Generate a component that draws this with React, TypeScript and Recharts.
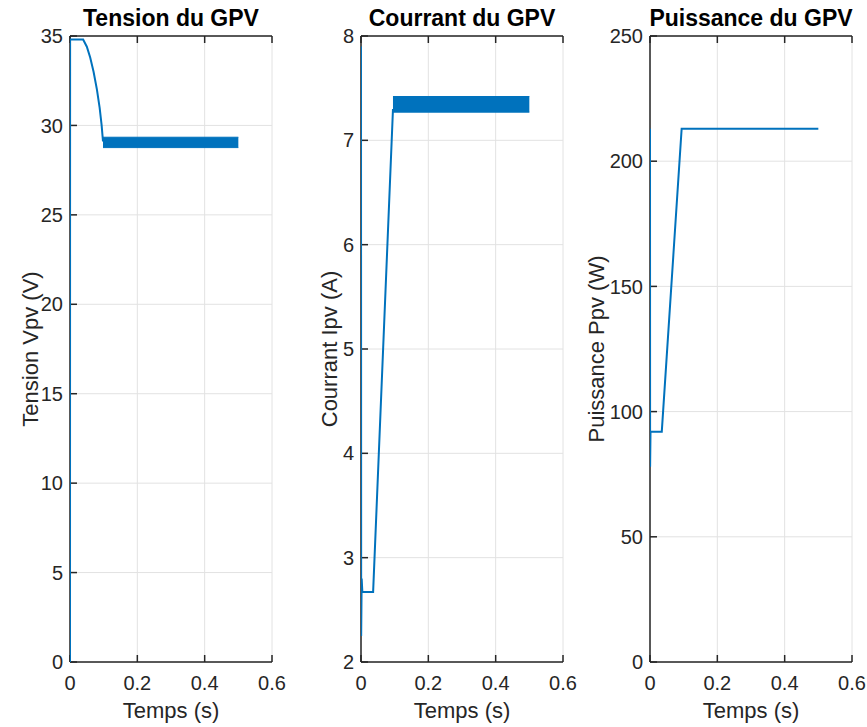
import React from 'react';
import {
  Area,
  CartesianGrid,
  ComposedChart,
  Label,
  Line,
  XAxis,
  YAxis,
} from 'recharts';

// temps (s) commun aux trois graphes
const timeTicks = [0, 0.2, 0.4, 0.6];

// Tension du GPV
const tensionTime = [0, 0.0003, 0.039, 0.05, 0.06, 0.07, 0.08, 0.088, 0.094, 0.098];
const tensionValue = [0, 34.8, 34.8, 34.4, 33.8, 33.0, 32.0, 31.0, 30.0, 29.1];
const tensionBandTime = [0.098, 0.5];
const tensionBandLow = [28.76, 28.76];
const tensionBandHigh = [29.34, 29.34];
const tensionTicks = [0, 5, 10, 15, 20, 25, 30, 35];

// Courrant du GPV
const courantTime = [0, 0.0005, 0.002, 0.004, 0.036, 0.095];
const courantValue = [7.9, 2.25, 2.8, 2.67, 2.67, 7.3];
const courantBandTime = [0.095, 0.5];
const courantBandLow = [7.27, 7.27];
const courantBandHigh = [7.42, 7.42];
const courantTicks = [2, 3, 4, 5, 6, 7, 8];

// Puissance du GPV
const puissanceTime = [0, 0.0003, 0.0015, 0.035, 0.094, 0.5];
const puissanceValue = [213, 78, 92, 92, 213, 213];
const puissanceTicks = [0, 50, 100, 150, 200, 250];

const BLUE = '#0072BD';
const AXIS = '#262626';
const FONT = '"Liberation Sans", Arial, sans-serif';

type Row = { t: number; v?: number; band?: [number, number] };

function buildRows(
  time: number[],
  value: number[],
  bandTime: number[] = [],
  low: number[] = [],
  high: number[] = []
): Row[] {
  const rows: Row[] = time.map((t, i) => ({ t, v: value[i] }));
  bandTime.forEach((t, i) => rows.push({ t, band: [low[i], high[i]] }));
  return rows.sort((a, b) => a.t - b.t);
}

type PanelProps = {
  left: number;
  title: string;
  yLabel: string;
  yLabelOffset: number;
  domain: [number, number];
  yTicks: number[];
  rows: Row[];
  hasBand: boolean;
};

// layer 'axes' = grille + cadre + textes, layer 'series' = courbes par-dessus
function Layer({ layer, title, yLabel, yLabelOffset, domain, yTicks, rows, hasBand }: PanelProps & { layer: 'axes' | 'series' }) {
  const show = layer === 'axes';
  const axisLine = show ? { stroke: AXIS, strokeWidth: 1.5 } : false;
  const tick = show ? { fill: AXIS, fontSize: 20, fontFamily: FONT } : false;
  return (
    <ComposedChart
      width={286}
      height={727}
      data={rows}
      margin={{ top: 0, right: 14, bottom: 35, left: 20 }}
      style={{ position: 'absolute', left: 0, top: 0 }}
    >
      {show && <CartesianGrid stroke='#e2e2e2' strokeWidth={1} />}
      <XAxis
        dataKey='t'
        type='number'
        domain={[0, 0.6]}
        allowDataOverflow
        ticks={timeTicks}
        height={30}
        axisLine={axisLine}
        tickLine={axisLine}
        tickSize={-7}
        tickMargin={21}
        tick={tick}
      >
        {show && (
          <Label
            value='Temps (s)'
            position='bottom'
            offset={10}
            style={{ fill: AXIS, fontSize: 22, fontFamily: FONT }}
          />
        )}
      </XAxis>
      <XAxis
        xAxisId='top'
        dataKey='t'
        orientation='top'
        type='number'
        domain={[0, 0.6]}
        allowDataOverflow
        ticks={timeTicks}
        height={36}
        axisLine={axisLine}
        tickLine={axisLine}
        tickSize={-7}
        tickFormatter={() => ''}
      >
        {show && (
          <Label
            value={title}
            position='center'
            style={{ fill: '#000', fontSize: 23, fontWeight: 'bold', fontFamily: FONT }}
          />
        )}
      </XAxis>
      <YAxis
        type='number'
        domain={domain}
        allowDataOverflow
        ticks={yTicks}
        width={50}
        axisLine={axisLine}
        tickLine={axisLine}
        tickSize={-7}
        tickMargin={14}
        tick={tick}
      >
        {show && (
          <Label
            value={yLabel}
            angle={-90}
            position='insideLeft'
            offset={yLabelOffset}
            style={{ fill: AXIS, fontSize: 22, fontFamily: FONT, textAnchor: 'middle' }}
          />
        )}
      </YAxis>
      <YAxis
        yAxisId='right'
        orientation='right'
        type='number'
        domain={domain}
        allowDataOverflow
        ticks={yTicks}
        width={0}
        axisLine={axisLine}
        tickLine={axisLine}
        tickSize={-7}
        tickFormatter={() => ''}
      />
      {!show && hasBand && (
        <Area
          dataKey='band'
          type='linear'
          stroke={BLUE}
          strokeWidth={1}
          fill={BLUE}
          fillOpacity={1}
          dot={false}
          activeDot={false}
          isAnimationActive={false}
        />
      )}
      {!show && (
        <Line
          dataKey='v'
          type='linear'
          stroke={BLUE}
          strokeWidth={2}
          dot={false}
          activeDot={false}
          isAnimationActive={false}
        />
      )}
    </ComposedChart>
  );
}

function Panel(props: PanelProps) {
  return (
    <div style={{ position: 'absolute', left: props.left, top: 0, width: 286, height: 727 }}>
      <Layer {...props} layer='axes' />
      <Layer {...props} layer='series' />
    </div>
  );
}

export default function App() {
  return (
    <div style={{ position: 'absolute', left: 0, top: 0, width: 867, height: 727, background: '#fff' }}>
      <Panel
        left={0}
        title='Tension du GPV'
        yLabel='Tension Vpv (V)'
        yLabelOffset={10}
        domain={[0, 35]}
        yTicks={tensionTicks}
        rows={buildRows(tensionTime, tensionValue, tensionBandTime, tensionBandLow, tensionBandHigh)}
        hasBand
      />
      <Panel
        left={291}
        title='Courrant du GPV'
        yLabel='Courrant Ipv (A)'
        yLabelOffset={18}
        domain={[2, 8]}
        yTicks={courantTicks}
        rows={buildRows(courantTime, courantValue, courantBandTime, courantBandLow, courantBandHigh)}
        hasBand
      />
      <Panel
        left={580}
        title='Puissance du GPV'
        yLabel='Puissance Ppv (W)'
        yLabelOffset={-4}
        domain={[0, 250]}
        yTicks={puissanceTicks}
        rows={buildRows(puissanceTime, puissanceValue)}
        hasBand={false}
      />
    </div>
  );
}
